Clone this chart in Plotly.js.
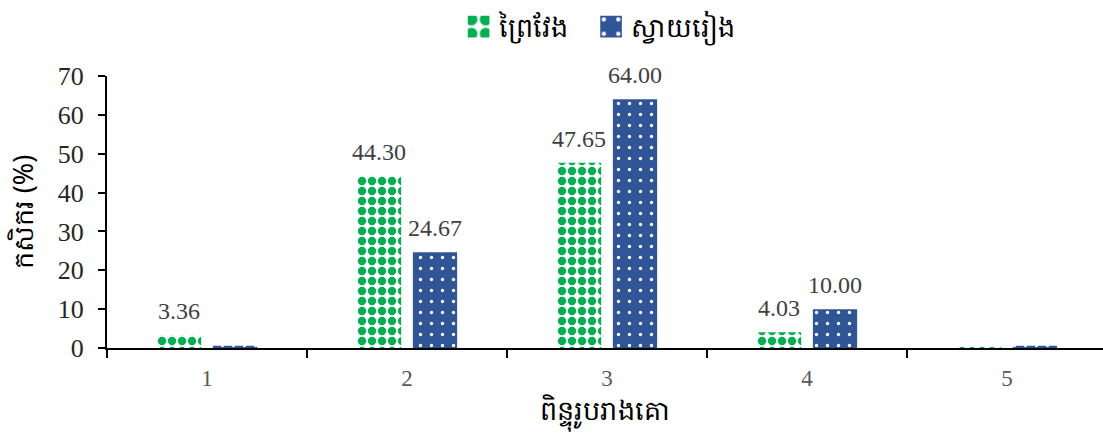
<!DOCTYPE html>
<html><head><meta charset="utf-8">
<script src="https://cdn.plot.ly/plotly-3.0.1.min.js"></script>
<style>html,body{margin:0;padding:0;background:#fff}#c{width:1103px;height:439px}</style>
</head><body><div id="c"></div>
<script>
const categories = ['1','2','3','4','5'];
const seriesNames = ['ព្រៃវែង','ស្វាយរៀង'];
const preyVeng = [3.36, 44.30, 47.65, 4.03, 0.4];
const svayRieng = [0.6, 24.67, 64.00, 10.00, 0.6];
const preyVengLabels = ['3.36','44.30','47.65','4.03',''];
const svayRiengLabels = ['','24.67','64.00','10.00',''];
const yTicks = [0,10,20,30,40,50,60,70];
const xTitle = 'ពិន្ទុរូបរាងគោ';
const yTitle = 'កសិករ (%)';

const serif = '"Liberation Serif","Times New Roman",serif';
const khmer = '"Noto Sans","DejaVu Sans",sans-serif';
const labelFont = {family:serif, size:24, color:'#404040'};
const legendFont = {family:khmer, size:27, color:'#000'};

const traces = [
 {type:'bar', name:seriesNames[0], x:categories, y:preyVeng, legend:'legend',
  marker:{color:'#00B050', line:{width:0}, pattern:{shape:'.', fgcolor:'#00B050', bgcolor:'#ffffff', size:10, solidity:0.55, fillmode:'replace'}}},
 {type:'bar', name:seriesNames[1], x:categories, y:svayRieng, legend:'legend2',
  marker:{color:'#2F5597', line:{width:0}, pattern:{shape:'.', fgcolor:'#ffffff', bgcolor:'#2F5597', size:11, solidity:0.07, fillmode:'replace'}}}
];

const annotations = [];
[[preyVeng, preyVengLabels, -28], [svayRieng, svayRiengLabels, 28]].forEach(([vals, labs, dx]) => {
  vals.forEach((v, i) => {
    if (!labs[i]) return;
    annotations.push({x:i, y:v, xref:'x', yref:'y', text:labs[i], showarrow:false,
      xanchor:'center', yanchor:'bottom', xshift:dx, yshift:9, font:labelFont});
  });
});

const layout = {
 width:1103, height:439,
 margin:{l:107, r:0, t:76, b:91, autoexpand:false},
 paper_bgcolor:'#fff', plot_bgcolor:'#fff',
 barmode:'group', bargap:0.44, bargroupgap:0.21,
 showlegend:true,
 legend:{orientation:'h', x:0.353, xanchor:'left', y:1.18, yanchor:'middle', font:legendFont},
 legend2:{orientation:'h', x:0.486, xanchor:'left', y:1.18, yanchor:'middle', font:legendFont},
 annotations: annotations,
 xaxis:{type:'category', range:[-0.5,4.48], tickson:'boundaries', ticks:'outside', ticklen:8, tickcolor:'#000', tickwidth:2,
   showline:true, linecolor:'#000', linewidth:2, showgrid:false, zeroline:false, ticklabelstandoff:8,
   tickfont:{family:serif, size:23, color:'#595959'},
   title:{text:xTitle, font:{family:khmer, size:27, color:'#000'}, standoff:6}},
 yaxis:{range:[0,70], tickvals:yTicks, ticks:'outside', ticklen:7, tickcolor:'#000', tickwidth:2,
   showline:true, linecolor:'#000', linewidth:2, showgrid:false, zeroline:false, ticklabelstandoff:9,
   tickfont:{family:serif, size:26, color:'#262626'},
   title:{text:yTitle, font:{family:khmer, size:27, color:'#000'}, standoff:16}}
};
Plotly.newPlot('c', traces, layout, {displayModeBar:false, staticPlot:true}).then(gd => {
  gd.querySelectorAll('.legendpoints path').forEach(p => {
    p.setAttribute('transform', (p.getAttribute('transform') || '') + ' scale(1.8)');
  });
});
</script></body></html>
